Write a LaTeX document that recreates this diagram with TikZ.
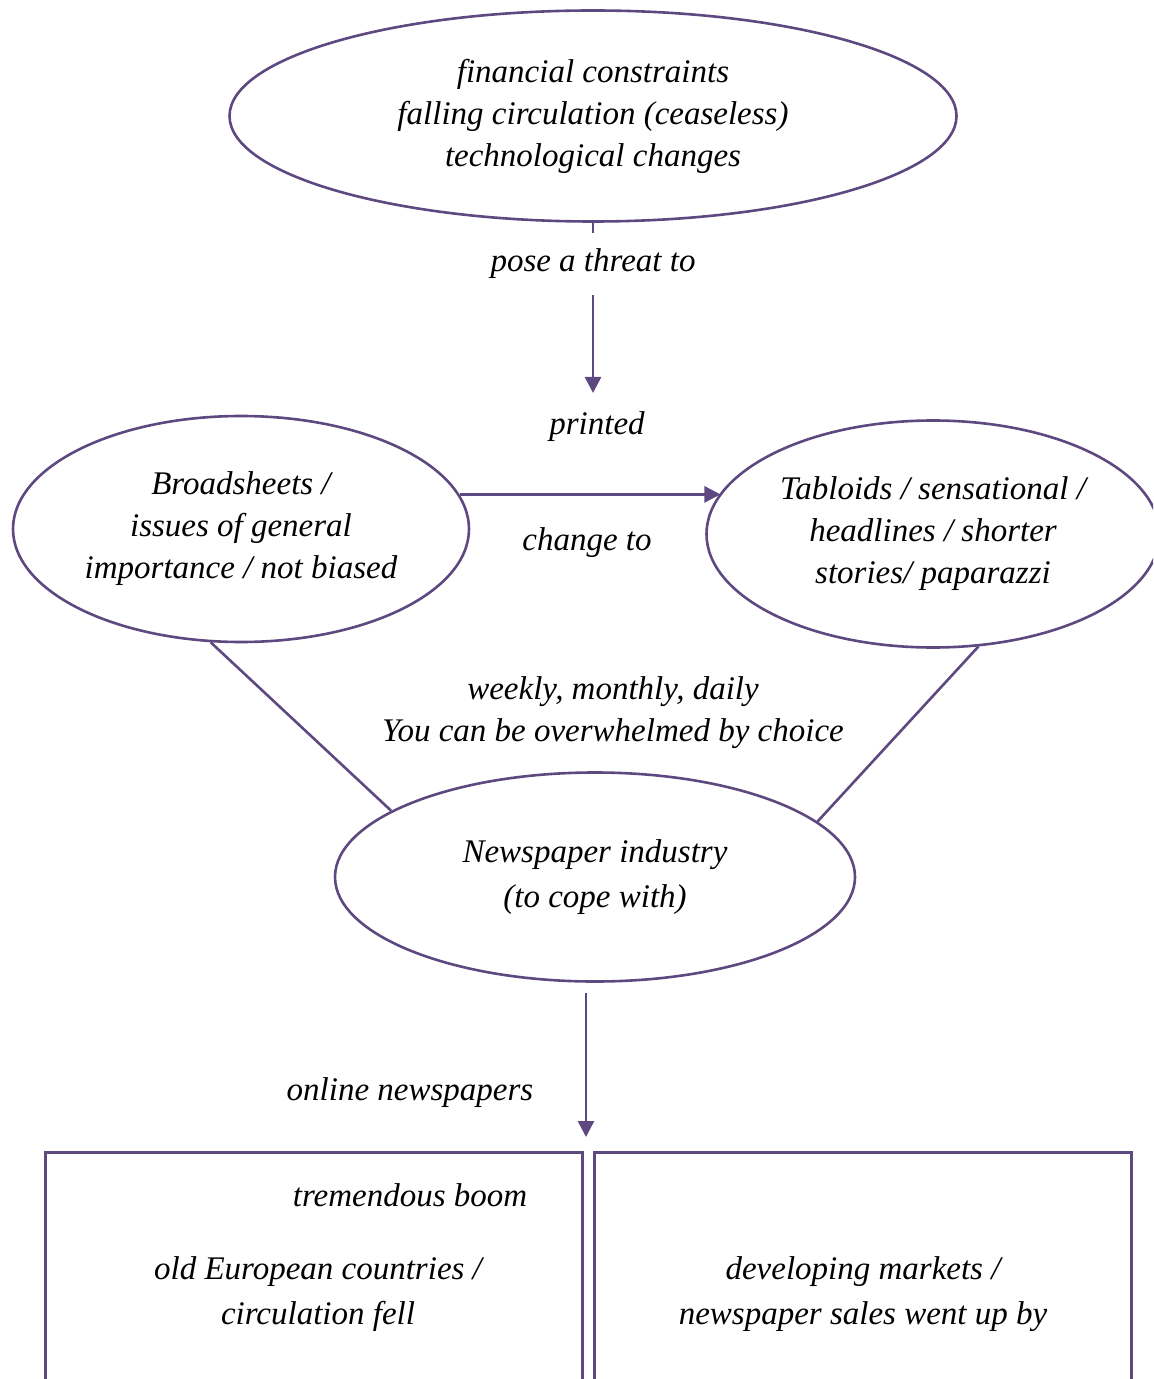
\documentclass[tikz,border=0pt]{standalone}
\usepackage{fontspec}
\setmainfont{Liberation Serif}
\usetikzlibrary{shapes.geometric}
\usetikzlibrary{arrows.meta}
\definecolor{c1}{RGB}{94,72,128}
\tikzstyle{every node}=[font=\itshape\fontsize{16.5}{21}\selectfont, align=center, inner sep=0.1em]
\tikzset{
  bubble/.style={ellipse, draw=c1, line width=1.3pt, inner sep=0pt},
  frame/.style={draw=c1, line width=1.3pt, inner sep=0pt},
  tag/.style={fill=white, text=black, inner ysep=8pt},
  wide/.style={font=\itshape\fontsize{16.5}{22.5}\selectfont},
  edge/.style = {-{Triangle[length=8pt,width=8pt]}, c1, line width=1.3pt},
  link/.style = {c1, line width=1.3pt},
}

\begin{document}
\begin{tikzpicture}[x=0.5pt, y=-0.5pt]
    \clip (0,0) rectangle (1153,1379);

    \node[bubble, minimum width=363.5pt, minimum height=105.5pt] (top) at (593,116)
        {financial constraints\\falling circulation (ceaseless)\\technological changes};

    \node[bubble, minimum width=228pt, minimum height=113pt] (broad) at (241,529)
        {Broadsheets /\\issues of general\\importance / not biased};

    \node[bubble, minimum width=226.5pt, minimum height=113.5pt] (tab) at (933,534)
        {Tabloids / sensational /\\headlines / shorter\\stories/ paparazzi};

    \node[bubble, wide, minimum width=260pt, minimum height=104.5pt] (news) at (595,877)
        {Newspaper industry\\(to cope with)};

    \node[frame, minimum width=268.5pt, minimum height=150pt, anchor=north west] (oldbox) at (44,1151) {};
    \node[frame, minimum width=268.5pt, minimum height=150pt, anchor=north west] (devbox) at (593,1151) {};

    \node (printed) at (597,427) {printed};
    \node (change) at (587,543) {change to};
    \node (often) at (613,713) {weekly, monthly, daily\\You can be overwhelmed by choice};
    \node (online) at (410,1093) {online newspapers};
    \node (boom) at (410,1195) {tremendous boom};
    \node[wide] (old) at (318,1294) {old European countries /\\circulation fell};
    \node[wide] (dev) at (863,1294) {developing markets /\\newspaper sales went up by};

    \coordinate (up) at (593,393);
    \coordinate (dn) at (586,1137);

    {
        \draw[edge] (top.south) -- node[tag, pos=0.24] {pose a threat to} (up);
        \draw[edge] (broad.9.4) -- (broad.9.4 -| tab.169.2);
        \draw[link] (broad.-105.2) -- (news.162.2);
        \draw[link] (tab.-68.5) -- (news.14.3);
        \draw[edge] ([shift={(-4.5pt,-5pt)}]news.south) -- (dn);
    }

\end{tikzpicture}
\end{document}
